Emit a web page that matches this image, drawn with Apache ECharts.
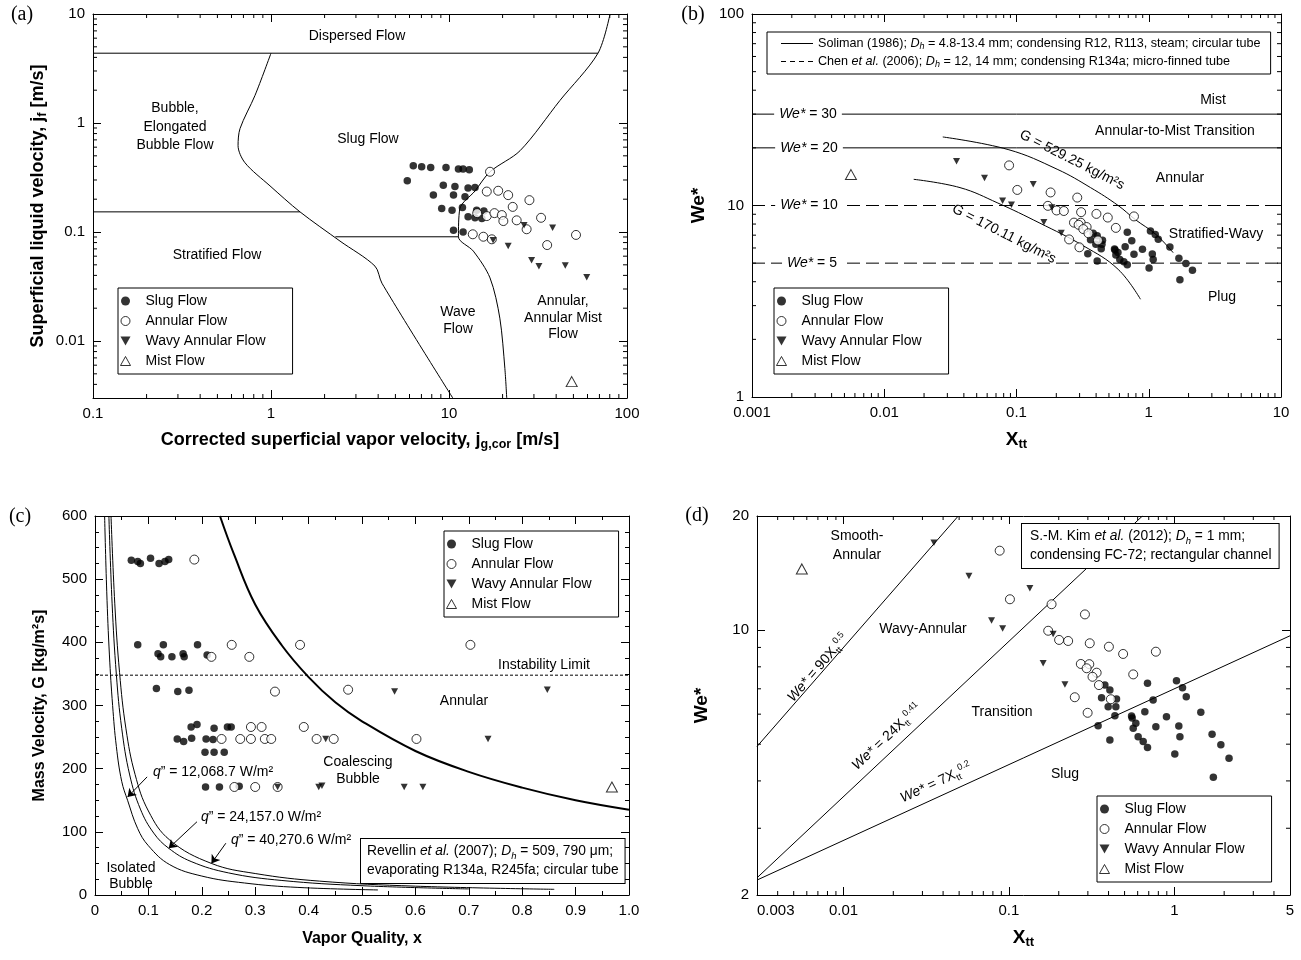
<!DOCTYPE html>
<html><head><meta charset="utf-8">
<script src="https://cdn.jsdelivr.net/npm/echarts@6/dist/echarts.min.js"></script>
<style>html,body{margin:0;padding:0;background:#fff}#c{width:1301px;height:960px}</style>
</head><body><div id="c"></div>
<script>
const FF = '"Liberation Sans", Arial, Helvetica, sans-serif';
const SERIF = '"Liberation Serif", "Times New Roman", serif';

// ---------- Panel (a): j_g,cor [m/s] vs j_f [m/s] ----------
const aSlug = [[6.3,0.406],[7.02,0.397],[7.89,0.39],[9.62,0.39],[11.3,0.378],[12.0,0.378],[13.0,0.373],[5.83,0.295],[9.29,0.269],[10.8,0.262],[12.8,0.253],[14.0,0.256],[8.17,0.219],[10.6,0.218],[12.3,0.211],[9.1,0.164],[10.4,0.158],[11.9,0.168],[14.3,0.158],[15.7,0.156],[12.8,0.138],[14.0,0.135],[15.3,0.133],[10.6,0.104],[12.0,0.1]];
const aAnnular = [[17.0,0.357],[16.3,0.235],[18.9,0.239],[21.5,0.218],[28.3,0.196],[22.8,0.17],[14.4,0.149],[16.3,0.14],[18.0,0.149],[19.8,0.143],[20.2,0.126],[24.0,0.128],[27.3,0.106],[32.9,0.135],[51.7,0.094],[35.6,0.0759],[13.6,0.0953],[15.6,0.0905],[17.4,0.0857]];
const aWavy = [[17.7,0.084],[21.5,0.0743],[26.4,0.1156],[38.2,0.1096],[29.1,0.0552],[32.0,0.0486],[45.0,0.0493],[59.4,0.0385]];
const aMist = [[48.9,0.00424]];
const aDispersedLine = [[0.1,4.37],[68.7,4.37]];
const aStratBubbleLine = [[0.1,0.153],[1.455,0.153]];
const aStratWaveLine = [[2.3,0.0904],[11.3,0.0904]];
const aBubbleSlugCurve = [[1.0,4.37],[0.813,1.79],[0.67,0.89],[0.653,0.62],[0.714,0.432],[0.987,0.265],[1.455,0.153],[2.44,0.0826],[3.84,0.0486],[4.2,0.0339],[10.5,0.003]];
const aAnnularCurve = [[80.3,10],[68.7,4.37],[42,1.61],[25.1,0.558],[17.0,0.357],[14.0,0.238],[11.5,0.163],[11.3,0.0904],[13.7,0.0668],[17.0,0.0379],[19.3,0.0162],[20.6,0.00561],[21.1,0.003]];

// ---------- Panels (b) and (d): X_tt vs We* ----------
const bdSlug = [[0.38,7.16],[0.4075,6.95],[0.363,6.63],[0.447,6.58],[0.398,6.28],[0.443,6.28],[0.437,5.94],[0.688,7.24],[0.744,6.54],[0.663,6.09],[0.556,5.86],[0.585,5.68],[0.564,5.51],[0.604,5.23],[0.648,5.08],[0.688,4.9],[0.773,5.56],[0.896,5.91],[1.03,7.35],[1.12,7.05],[1.18,6.67],[1.064,5.58],[1.08,5.23],[1.006,4.71],[1.445,6.07],[1.69,5.31],[1.91,4.98],[2.14,4.59],[1.72,4.09],[0.346,5.59],[0.4075,5.13],[0.551,5.93]];
const bdAnnular = [[0.0879,16.2],[0.1014,12.06],[0.181,11.7],[0.288,11.0],[0.1727,9.96],[0.201,9.42],[0.228,9.36],[0.308,9.23],[0.402,9.04],[0.49,8.65],[0.773,8.77],[0.272,8.14],[0.306,8.13],[0.295,7.93],[0.339,7.72],[0.32,7.53],[0.35,7.16],[0.564,7.64],[0.413,6.57],[0.25,6.65],[0.299,6.05]];
const bdWavy = [[0.0352,17.0],[0.0573,13.9],[0.1338,12.9],[0.0785,10.6],[0.0916,10.1],[0.161,8.17],[0.185,9.77],[0.218,7.19]];
const bdMist = [[0.0056,14.5]];
const bWe30 = [[0.001,30],[10,30]];
const bWe20 = [[0.001,20],[10,20]];
const bWe10 = [[0.001,10],[10,10]];
const bWe5 = [[0.001,5],[10,5]];
const bG529 = [[0.0277,22.8],[0.0864,19.6],[0.2056,15.4],[0.363,12.4],[0.587,10.0],[0.79,8.45],[1.133,7.06],[1.53,5.67]];
const bG170 = [[0.0167,13.7],[0.0374,12.4],[0.0723,10.3],[0.148,8.13],[0.323,6.14],[0.587,4.64],[0.866,3.24]];
const dLine90 = [[0.003,4.93],[0.0494,20]];
const dLine24 = [[0.003,2.22],[0.641,20]];
const dLine7 = [[0.003,2.19],[5,9.66]];

// ---------- Panel (c): x vs G [kg/m2s] ----------
const cSlug = [[0.068,530],[0.08,528],[0.085,525],[0.104,533],[0.12,525],[0.131,528],[0.138,531],[0.08,396],[0.128,396],[0.192,396],[0.118,382],[0.123,377],[0.144,377],[0.165,382],[0.167,377],[0.21,380],[0.115,327],[0.155,322],[0.176,324],[0.18,266],[0.191,270],[0.223,264],[0.248,266],[0.255,266],[0.154,247],[0.166,243],[0.181,248],[0.208,247],[0.221,246],[0.206,226],[0.223,226],[0.242,226],[0.207,171],[0.233,171],[0.27,172]];
const cAnnular = [[0.186,531],[0.256,396],[0.384,396],[0.703,396],[0.218,377],[0.289,377],[0.337,322],[0.474,325],[0.292,266],[0.312,266],[0.391,266],[0.237,247],[0.272,247],[0.292,247],[0.318,247],[0.33,247],[0.415,247],[0.447,247],[0.602,247],[0.261,171],[0.3,171],[0.342,171]];
const cWavy = [[0.561,322],[0.847,325],[0.432,247],[0.736,247],[0.342,171],[0.419,171],[0.425,173],[0.579,171],[0.614,171]];
const cMist = [[0.968,171]];
const cCoalescingCurve = [[0.234,600],[0.26,540],[0.3,460],[0.35,395],[0.4,345],[0.45,305],[0.5,275],[0.6,228],[0.7,195],[0.8,170],[0.9,150],[1.0,135]];
const cInstabilityLine = [[0,348],[1,348]];
const cQ1 = [[0.018,600],[0.022,480],[0.027,380],[0.033,300],[0.04,235],[0.05,180],[0.061,150],[0.08,105],[0.1,78],[0.14,48],[0.2,30],[0.28,19],[0.38,12],[0.53,8]];
const cQ2 = [[0.026,600],[0.032,462],[0.04,349],[0.05,264],[0.065,190],[0.085,136],[0.11,98],[0.138,74],[0.18,53],[0.25,35],[0.35,23],[0.5,14.7],[0.7,9.6]];
const cQ3 = [[0.03,600],[0.037,462],[0.046,352],[0.058,263],[0.075,191],[0.1,133],[0.14,87],[0.218,50],[0.3,34],[0.42,22],[0.6,14],[0.86,9]];
const cArrows = [[[0.0976,187],[0.061,155]],[[0.191,116],[0.138,74]],[[0.245,82],[0.218,50]]];

// ---------- tick labels ----------
const cXTicks = ['0','0.1','0.2','0.3','0.4','0.5','0.6','0.7','0.8','0.9','1.0'];

const SOL = 'Soliman (1986); Dh = 4.8-13.4 mm; condensing R12, R113, steam; circular tube';
const CHEN = 'Chen et al. (2006); Dh = 12, 14 mm; condensing R134a; micro-finned tube';

const chart = echarts.init(document.getElementById('c'));

function minorLogValues(min, max) {
  const out = [];
  for (let e = Math.floor(Math.log10(min)) - 1; e <= Math.ceil(Math.log10(max)); e++) {
    for (let k = 2; k <= 9; k++) {
      const v = +(k * Math.pow(10, e)).toPrecision(6);
      if (v > min * 1.0001 && v < max / 1.0001) out.push(v);
    }
  }
  return out;
}
function logFmt(hideNonDecade) {
  return function (v) {
    const l = Math.log10(v);
    if (hideNonDecade && Math.abs(l - Math.round(l)) > 1e-6) return '';
    return String(+(+v).toPrecision(6));
  };
}
const titleRich = {
  t: {fontSize: 16, fontWeight: 'bold', fontFamily: FF, color: '#000', lineHeight: 20},
  s: {fontSize: 11, fontWeight: 'bold', fontFamily: FF, color: '#000', verticalAlign: 'bottom', lineHeight: 12},
  a: {fontSize: 18, fontWeight: 'bold', fontFamily: FF, color: '#000', lineHeight: 22},
  as: {fontSize: 12.5, fontWeight: 'bold', fontFamily: FF, color: '#000', verticalAlign: 'bottom', lineHeight: 13},
  T: {fontSize: 19, fontWeight: 'bold', fontFamily: FF, color: '#000', lineHeight: 22},
  S: {fontSize: 13, fontWeight: 'bold', fontFamily: FF, color: '#000', verticalAlign: 'bottom', lineHeight: 13}
};
function ax(o) {
  const base = {
    gridIndex: o.g, type: o.type, min: o.min, max: o.max, position: o.pos,
    axisLine: {show: true, onZero: false, lineStyle: {color: '#000', width: 1}},
    axisTick: {show: true, inside: true, length: 8, lineStyle: {color: '#000', width: 1}},
    axisLabel: Object.assign({show: !o.mirror, color: '#000', fontSize: 15, fontFamily: FF, margin: 8}, o.label || {}),
    splitLine: {show: false},
    name: o.mirror ? '' : (o.name || ''),
    nameLocation: 'middle', nameGap: o.gap || 30, nameMoveOverlap: false,
    nameTextStyle: {rich: titleRich, fontFamily: FF, fontWeight: 'bold', fontSize: 16, color: '#000'}
  };
  if (o.type === 'log') base.logBase = 10;
  if (o.interval) base.interval = o.interval;
  if (o.minor) base.minorTick = {show: true, splitNumber: o.minor, length: 4, lineStyle: {color: '#000', width: 1}};
  return base;
}
function minorTicks(idx, xr, yr, xLog, yLog) {
  const data = [];
  if (xLog) minorLogValues(xr[0], xr[1]).forEach(v => data.push([v, yr[0], 0]));
  if (yLog) minorLogValues(yr[0], yr[1]).forEach(v => data.push([xr[0], v, 1]));
  return {
    type: 'custom', name: 'minor ticks', xAxisIndex: idx, yAxisIndex: idx, silent: true, z: 3, clip: false,
    data: data,
    renderItem: function (params, api) {
      const cs = params.coordSys;
      const p = api.coord([api.value(0), api.value(1)]);
      const L = 4, st = {stroke: '#000', lineWidth: 1};
      if (api.value(2) === 0) {
        const x = p[0];
        return {type: 'group', children: [
          {type: 'line', shape: {x1: x, y1: cs.y + cs.height, x2: x, y2: cs.y + cs.height - L}, style: st},
          {type: 'line', shape: {x1: x, y1: cs.y, x2: x, y2: cs.y + L}, style: st}]};
      }
      const y = p[1];
      return {type: 'group', children: [
        {type: 'line', shape: {x1: cs.x, y1: y, x2: cs.x + L, y2: y}, style: st},
        {type: 'line', shape: {x1: cs.x + cs.width, y1: y, x2: cs.x + cs.width - L, y2: y}, style: st}]};
    }
  };
}
const SYM = {
  'Slug Flow': {symbol: 'circle', symbolSize: 7.5, itemStyle: {color: '#000'}},
  'Annular Flow': {symbol: 'circle', symbolSize: 9, itemStyle: {color: '#fff', borderColor: '#000', borderWidth: 1}},
  'Wavy Annular Flow': {symbol: 'path://M0,0L10,0L5,9Z', symbolSize: [7, 6.5], itemStyle: {color: '#000'}},
  'Mist Flow': {symbol: 'triangle', symbolSize: [11, 10], itemStyle: {color: '#fff', borderColor: '#000', borderWidth: 1}}
};
function sc(name, idx, data) {
  return Object.assign({type: 'scatter', name: name, xAxisIndex: idx, yAxisIndex: idx, data: data, z: 5, silent: true}, JSON.parse(JSON.stringify(SYM[name])));
}
function ln(name, idx, data, o) {
  o = o || {};
  return {type: 'line', name: name, xAxisIndex: idx, yAxisIndex: idx, data: data, symbol: 'none', silent: true, z: 2,
    smooth: o.smooth || false, itemStyle: {color: '#000'}, lineStyle: {color: '#000', width: o.w || 1, type: o.type || 'solid'},
    markLine: o.markLine};
}
const legendData = [
  {name: 'Slug Flow', icon: 'circle', itemStyle: {color: '#000', borderWidth: 0}},
  {name: 'Annular Flow', icon: 'circle', itemStyle: {color: '#fff', borderColor: '#000', borderWidth: 1}},
  {name: 'Wavy Annular Flow', icon: 'path://M0,0L10,0L5,9Z', itemStyle: {color: '#000', borderWidth: 0}},
  {name: 'Mist Flow', icon: 'path://M5,0L10,9L0,9Z', itemStyle: {color: '#fff', borderColor: '#000', borderWidth: 1}}
];
function ptLegend(left, top) {
  return {left: left, top: top, orient: 'vertical', data: legendData, selectedMode: false,
    borderColor: '#000', borderWidth: 1, borderRadius: 0, backgroundColor: '#fff', padding: [6, 27, 6, 2],
    itemGap: 6, itemWidth: 30, itemHeight: 9, z: 20,
    textStyle: {fontSize: 14, fontFamily: FF, color: '#000'}};
}
const legRich = {
  n: {fontSize: 12.6, fontFamily: FF, color: '#000', lineHeight: 15},
  i: {fontSize: 12.6, fontFamily: FF, color: '#000', fontStyle: 'italic', lineHeight: 15},
  s: {fontSize: 9, fontFamily: FF, color: '#000', fontStyle: 'italic', verticalAlign: 'bottom', lineHeight: 9}
};
const GR = {
  n: {fontSize: 14, fontFamily: FF, fill: '#000', lineHeight: 18},
  i: {fontSize: 14, fontFamily: FF, fill: '#000', fontStyle: 'italic', lineHeight: 18},
  sub: {fontSize: 9, fontFamily: FF, fill: '#000', verticalAlign: 'bottom', lineHeight: 10},
  sup: {fontSize: 9, fontFamily: FF, fill: '#000', verticalAlign: 'top', lineHeight: 10},
  n13: {fontSize: 13.8, fontFamily: FF, fill: '#000', lineHeight: 19},
  i13: {fontSize: 13.8, fontFamily: FF, fill: '#000', fontStyle: 'italic', lineHeight: 19},
  s13: {fontSize: 9.5, fontFamily: FF, fill: '#000', fontStyle: 'italic', verticalAlign: 'bottom', lineHeight: 11}
};
function T(x, y, text, o) {
  o = o || {};
  const st = {text: text, x: 0, y: 0, fill: '#000', font: (o.size || 14) + 'px ' + (o.family || FF),
    align: o.align || 'center', verticalAlign: o.va || 'middle', textAlign: o.align || 'center', textVerticalAlign: o.va || 'middle'};
  if (o.lh) st.lineHeight = o.lh;
  if (o.rich) st.rich = GR;
  if (o.box) { st.backgroundColor = '#fff'; st.borderColor = '#000'; st.borderWidth = 1; st.padding = o.box; }
  if (o.bg) { st.backgroundColor = '#fff'; st.padding = o.bg; }
  return {type: 'text', x: x, y: y, rotation: o.rot || 0, z: 50, style: st};
}
const deg = Math.PI / 180;

const option = {
  animation: false,
  backgroundColor: '#fff',
  grid: [
    {left: 93, top: 14, width: 534, height: 384, containLabel: false, outerBoundsMode: 'none'},
    {left: 752, top: 14, width: 529, height: 383, containLabel: false, outerBoundsMode: 'none'},
    {left: 95, top: 516, width: 534, height: 379, containLabel: false, outerBoundsMode: 'none'},
    {left: 757, top: 516, width: 533, height: 379, containLabel: false, outerBoundsMode: 'none'}
  ],
  xAxis: [
    ax({g: 0, type: 'log', min: 0.1, max: 100, pos: 'bottom', label: {formatter: logFmt(true)}, gap: 31,
        name: '{a|Corrected superficial vapor velocity, j}{as|g,cor}{a| [m/s]}'}),
    ax({g: 0, type: 'log', min: 0.1, max: 100, pos: 'top', mirror: true}),
    ax({g: 1, type: 'log', min: 0.001, max: 10, pos: 'bottom', label: {formatter: logFmt(true)}, gap: 32,
        name: '{T|X}{S|tt}'}),
    ax({g: 1, type: 'log', min: 0.001, max: 10, pos: 'top', mirror: true}),
    ax({g: 2, type: 'value', min: 0, max: 1, interval: 0.1, minor: 2, pos: 'bottom', gap: 34,
        label: {formatter: function (v) { return cXTicks[Math.round(v * 10)]; }},
        name: '{t|Vapor Quality, x}'}),
    ax({g: 2, type: 'value', min: 0, max: 1, interval: 0.1, minor: 2, pos: 'top', mirror: true}),
    ax({g: 3, type: 'log', min: 0.003, max: 5, pos: 'bottom', label: {formatter: logFmt(false), alignMinLabel: 'left'}, gap: 32,
        name: '{T|X}{S|tt}'}),
    ax({g: 3, type: 'log', min: 0.003, max: 5, pos: 'top', mirror: true})
  ],
  yAxis: [
    ax({g: 0, type: 'log', min: 0.003, max: 10, pos: 'left', label: {formatter: logFmt(true)}, gap: 44,
        name: '{a|Superficial liquid velocity, j}{as|f}{a| [m/s]}'}),
    ax({g: 0, type: 'log', min: 0.003, max: 10, pos: 'right', mirror: true}),
    ax({g: 1, type: 'log', min: 1, max: 100, pos: 'left', label: {formatter: logFmt(true)}, gap: 42,
        name: '{T|We*}'}),
    ax({g: 1, type: 'log', min: 1, max: 100, pos: 'right', mirror: true}),
    ax({g: 2, type: 'value', min: 0, max: 600, interval: 100, minor: 4, pos: 'left', gap: 45,
        name: '{t|Mass Velocity, G [kg/m²s]}'}),
    ax({g: 2, type: 'value', min: 0, max: 600, interval: 100, minor: 4, pos: 'right', mirror: true}),
    ax({g: 3, type: 'log', min: 2, max: 20, pos: 'left', label: {formatter: logFmt(false)}, gap: 44,
        name: '{T|We*}'}),
    ax({g: 3, type: 'log', min: 2, max: 20, pos: 'right', mirror: true})
  ],
  legend: [
    ptLegend(118, 288),
    ptLegend(774, 288),
    ptLegend(444, 531),
    ptLegend(1097, 796),
    {left: 767, top: 32, orient: 'vertical', selectedMode: false,
     data: [
       {name: SOL, icon: 'path://M0,0H32V1H0Z', itemStyle: {color: '#000', borderWidth: 0}},
       {name: CHEN, icon: 'path://M0,0h5v1h-5zM9,0h5v1h-5zM18,0h5v1h-5zM27,0h5v1h-5z', itemStyle: {color: '#000', borderWidth: 0}}
     ],
     borderColor: '#000', borderWidth: 1, borderRadius: 0, backgroundColor: '#fff', padding: [5, 10, 5, 14],
     itemGap: 4, itemWidth: 32, itemHeight: 8, z: 20,
     textStyle: {fontSize: 12.6, fontFamily: FF, color: '#000', rich: legRich},
     formatter: function (name) {
       if (name === SOL) return '{n|Soliman (1986); }{i|D}{s|h}{n| = 4.8-13.4 mm; condensing R12, R113, steam; circular tube}';
       return '{n|Chen }{i|et al.}{n| (2006); }{i|D}{s|h}{n| = 12, 14 mm; condensing R134a; micro-finned tube}';
     }}
  ],
  series: [
    // (a)
    ln('Dispersed boundary', 0, aDispersedLine),
    ln('Stratified/Bubble boundary', 0, aStratBubbleLine),
    ln('Stratified/Wave boundary', 0, aStratWaveLine),
    ln('Bubble/Slug boundary', 0, aBubbleSlugCurve, {smooth: 0.3}),
    ln('Annular boundary', 0, aAnnularCurve, {smooth: 0.3}),
    minorTicks(0, [0.1, 100], [0.003, 10], true, true),
    sc('Slug Flow', 0, aSlug), sc('Annular Flow', 0, aAnnular), sc('Wavy Annular Flow', 0, aWavy), sc('Mist Flow', 0, aMist),
    // (b)
    ln(SOL, 2, bWe30), ln(SOL, 2, bWe20),
    ln(CHEN, 2, bWe10, {type: [13, 6]}), ln(CHEN, 2, bWe5, {type: [13, 6]}),
    ln('G = 529.25', 2, bG529, {smooth: 0.4}), ln('G = 170.11', 2, bG170, {smooth: 0.4}),
    minorTicks(2, [0.001, 10], [1, 100], true, true),
    sc('Slug Flow', 2, bdSlug), sc('Annular Flow', 2, bdAnnular), sc('Wavy Annular Flow', 2, bdWavy), sc('Mist Flow', 2, bdMist),
    // (c)
    ln('Coalescing/Annular boundary', 4, cCoalescingCurve, {smooth: 0.4, w: 2}),
    ln('Instability Limit', 4, cInstabilityLine, {type: [3, 2]}),
    ln('q1', 4, cQ1, {smooth: 0.4, markLine: {silent: true, animation: false, symbol: ['none', 'arrow'], symbolSize: 8,
      label: {show: false}, lineStyle: {color: '#000', width: 1, type: 'solid'},
      data: cArrows.map(a => [{coord: a[0]}, {coord: a[1]}])}}),
    ln('q2', 4, cQ2, {smooth: 0.4}),
    ln('q3', 4, cQ3, {smooth: 0.4}),
    sc('Slug Flow', 4, cSlug), sc('Annular Flow', 4, cAnnular), sc('Wavy Annular Flow', 4, cWavy), sc('Mist Flow', 4, cMist),
    // (d)
    ln('We*=90X^0.5', 6, dLine90), ln('We*=24X^0.41', 6, dLine24), ln('We*=7X^0.2', 6, dLine7),
    minorTicks(6, [0.003, 5], [2, 20], true, true),
    sc('Slug Flow', 6, bdSlug), sc('Annular Flow', 6, bdAnnular), sc('Wavy Annular Flow', 6, bdWavy), sc('Mist Flow', 6, bdMist)
  ],
  graphic: [
    T(22, 15, '(a)', {size: 20, family: SERIF}),
    T(693, 15, '(b)', {size: 20, family: SERIF}),
    T(20, 517, '(c)', {size: 20, family: SERIF}),
    T(697, 516, '(d)', {size: 20, family: SERIF}),
    // (a) regions
    T(357, 36, 'Dispersed Flow'),
    T(175, 127, 'Bubble,\nElongated\nBubble Flow', {lh: 18.5}),
    T(368, 139, 'Slug Flow'),
    T(217, 255, 'Stratified Flow'),
    T(458, 320.5, 'Wave\nFlow', {lh: 16.5}),
    T(563, 318, 'Annular,\nAnnular Mist\nFlow', {lh: 16.5}),
    // (b)
    T(1213, 100, 'Mist'),
    T(1175, 131, 'Annular-to-Mist Transition'),
    T(1180, 178, 'Annular'),
    T(1216, 234, 'Stratified-Wavy'),
    T(1222, 297, 'Plug'),
    T(808, 114, '{i|We*}{n| = 30}', {rich: true, bg: [0, 5]}),
    T(809, 148, '{i|We*}{n| = 20}', {rich: true, bg: [0, 5]}),
    T(809, 205, '{i|We*}{n| = 10}', {rich: true, bg: [0, 5]}),
    T(812, 263, '{i|We*}{n| = 5}', {rich: true, bg: [0, 5]}),
    T(1072, 160, '{n|G = 529.25 kg/m²s}', {rich: true, rot: -27 * deg}),
    T(1004, 234, '{n|G = 170.11 kg/m²s}', {rich: true, rot: -27 * deg}),
    // (c)
    T(544, 665, 'Instability Limit'),
    T(464, 701, 'Annular'),
    T(358, 771, 'Coalescing\nBubble', {lh: 17}),
    T(131, 876, 'Isolated\nBubble', {lh: 15.5}),
    T(213, 772, '{i|q}{n|” = 12,068.7 W/m²}', {rich: true}),
    T(261, 817, '{i|q}{n|” = 24,157.0 W/m²}', {rich: true}),
    T(291, 840, '{i|q}{n|” = 40,270.6 W/m²}', {rich: true}),
    T(361, 839, '{n13|Revellin }{i13|et al.}{n13| (2007); }{i13|D}{s13|h}{n13| = 509, 790 μm;}\n{n13|evaporating R134a, R245fa; circular tube}', {rich: true, align: 'left', va: 'top', box: [3, 6, 3, 6]}),
    // (d)
    T(857, 546, 'Smooth-\nAnnular', {lh: 19}),
    T(923, 629, 'Wavy-Annular'),
    T(1002, 712, 'Transition'),
    T(1065, 774, 'Slug'),
    T(1022, 524, '{n13|S.-M. Kim }{i13|et al.}{n13| (2012); }{i13|D}{s13|h}{n13| = 1 mm;}\n{n13|condensing FC-72; rectangular channel}', {rich: true, align: 'left', va: 'top', box: [3, 7, 3, 8]}),
    T(818, 668, '{i|We*}{n| = 90X}{sub|tt}{sup|0.5}', {rich: true, rot: 48.9 * deg}),
    T(887, 737, '{i|We*}{n| = 24X}{sub|tt}{sup|0.41}', {rich: true, rot: 43.2 * deg}),
    T(936, 783, '{i|We*}{n| = 7X}{sub|tt}{sup|0.2}', {rich: true, rot: 24.6 * deg})
  ]
};
chart.setOption(option);
</script></body></html>
